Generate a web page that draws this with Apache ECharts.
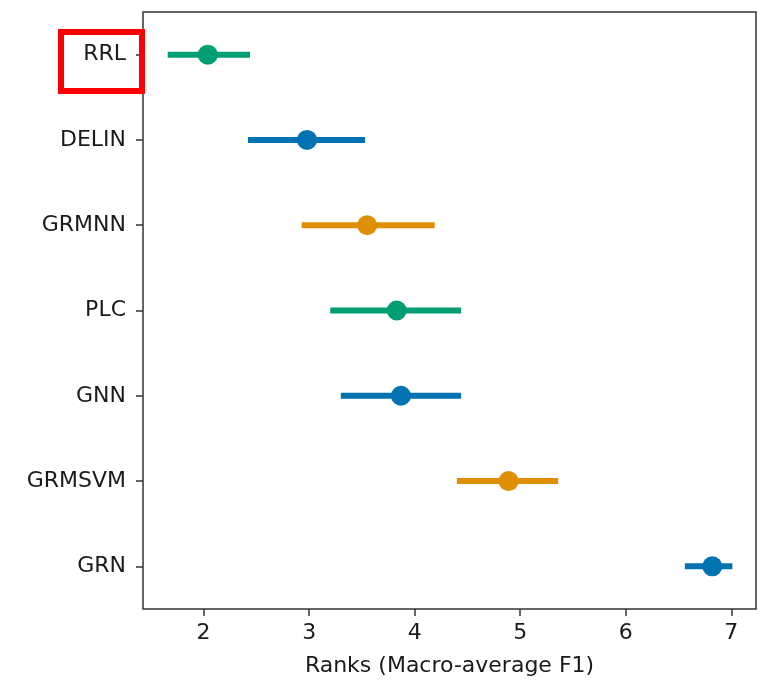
<!DOCTYPE html>
<html>
<head>
<meta charset="utf-8">
<script src="https://cdn.jsdelivr.net/npm/echarts@6/dist/echarts.min.js"></script>
<style>
  html, body { margin: 0; padding: 0; background: #fff; }
  #chart { width: 758px; height: 680px; }
</style>
</head>
<body>
<div id="chart"></div>
<script>
// 方法名（自上而下）及各自的平均排名与置信区间
const methods = ['RRL', 'DELIN', 'GRMNN', 'PLC', 'GNN', 'GRMSVM', 'GRN'];
const meanRank = [2.04, 2.98, 3.55, 3.83, 3.87, 4.89, 6.82];
const lowRank = [1.66, 2.42, 2.93, 3.20, 3.30, 4.40, 6.56];
const highRank = [2.44, 3.53, 4.19, 4.44, 4.44, 5.36, 7.01];
const xTicks = [2, 3, 4, 5, 6, 7];

// seaborn colorblind：绿、蓝、橙
const GREEN = '#029e73', BLUE = '#0173b2', ORANGE = '#de8f05';
const methodColors = [GREEN, BLUE, ORANGE, GREEN, BLUE, ORANGE, BLUE];
const FONT = 'DejaVu Sans';
const TEXT = '#1a1a1a';

const chart = echarts.init(document.getElementById('chart'), null, { renderer: 'canvas' });

chart.setOption({
  animation: false,
  grid: {
    left: 143, right: 2, top: 12, bottom: 71,
    outerBoundsMode: 'none',
    show: true, borderColor: '#333', borderWidth: 1.5, backgroundColor: 'transparent',
  },
  xAxis: {
    type: 'value',
    min: 1.426, max: 7.234,
    splitLine: { show: false },
    axisLine: { show: false },
    axisTick: { show: true, length: 7, customValues: xTicks, lineStyle: { color: '#333', width: 1.5 } },
    axisLabel: {
      customValues: xTicks, margin: 13,
      color: TEXT, fontFamily: FONT, fontSize: 22,
    },
    name: 'Ranks (Macro-average F1)',
    nameLocation: 'middle', nameGap: 46,
    nameTextStyle: { color: TEXT, fontFamily: FONT, fontSize: 22 },
  },
  yAxis: {
    type: 'category',
    data: methods,
    inverse: true,
    boundaryGap: true,
    axisLine: { show: false },
    splitLine: { show: false },
    axisTick: { show: true, alignWithLabel: true, length: 7, lineStyle: { color: '#333', width: 1.5 } },
    axisLabel: { margin: 17, color: TEXT, fontFamily: FONT, fontSize: 22 },
  },
  series: [
    {
      // 置信区间横线
      type: 'custom',
      data: methods.map((m, i) => [lowRank[i], highRank[i], i]),
      renderItem: (params, api) => {
        const a = api.coord([api.value(0), api.value(2)]);
        const b = api.coord([api.value(1), api.value(2)]);
        return {
          type: 'line',
          shape: { x1: a[0], y1: a[1], x2: b[0], y2: b[1] },
          style: { stroke: methodColors[params.dataIndex], lineWidth: 6 },
        };
      },
      encode: { x: [0, 1], y: 2 },
      z: 2,
    },
    {
      type: 'scatter',
      symbolSize: 20,
      data: methods.map((m, i) => ({
        value: [meanRank[i], i],
        itemStyle: { color: methodColors[i], opacity: 1 },
      })),
      z: 3,
    },
  ],
  graphic: [{
    // 标注 RRL 的红框
    type: 'rect',
    shape: { x: 61, y: 32, width: 81, height: 59 },
    style: { fill: 'transparent', stroke: '#ff0000', lineWidth: 6 },
    z: 100,
  }],
});
</script>
</body>
</html>
